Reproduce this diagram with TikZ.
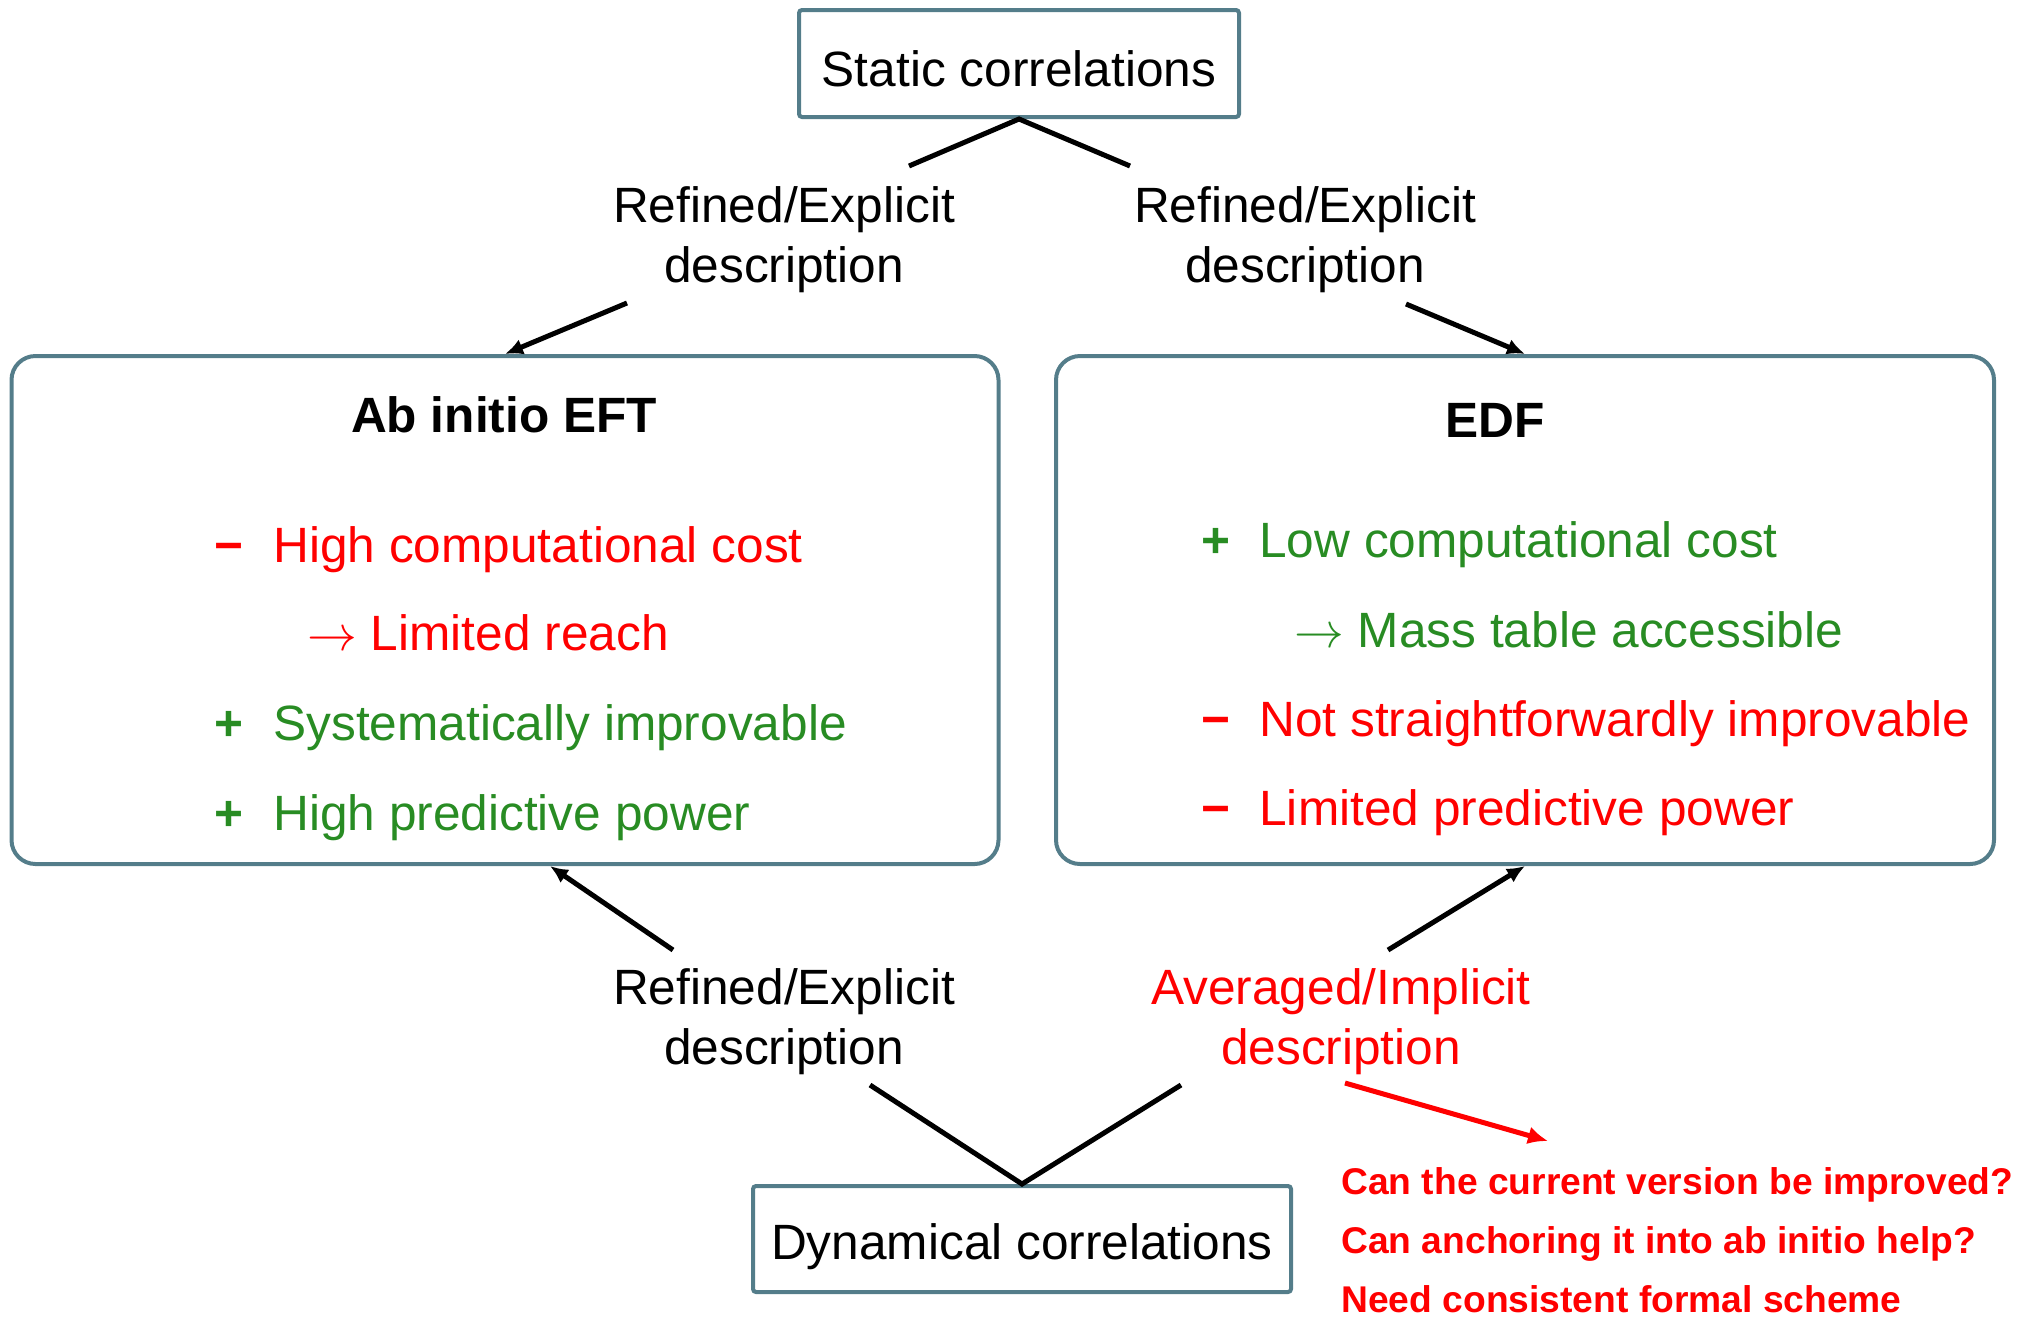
\documentclass[tikz,border=0pt]{standalone}
\usepackage{fontspec}
\setmainfont{Liberation Sans}
\usetikzlibrary{arrows.meta,calc}
\definecolor{bordc}{RGB}{84,125,138}
\definecolor{grn}{RGB}{40,140,35}
\newcommand\mainsz{\fontsize{24.8}{30}\selectfont}
\newcommand\qsz{\fontsize{18.6}{29.5}\selectfont\bfseries}
\newcommand\minussign{{\bfseries\char"2212}}
\tikzset{
  smallbox/.style={draw=bordc, line width=2pt, rounded corners=1.5pt, font=\mainsz, inner sep=0pt},
  bigbox/.style={draw=bordc, line width=2pt, rounded corners=12pt, inner sep=0pt},
  txt/.style={inner sep=0pt, font=\mainsz},
  conn/.style={line width=2.5pt, black},
  arr/.style={conn, -{Latex[length=9pt,width=8pt]}},
  redarr/.style={line width=2.5pt, red, -{Latex[length=10pt,width=9pt]}},
}
\begin{document}
\begin{tikzpicture}[x=0.5pt,y=-0.5pt]
\useasboundingbox (0,0) rectangle (2028,1318);

% boxes
\node[smallbox, minimum width=220pt, minimum height=53.5pt, text height=22.5pt, text depth=0pt] (static) at (1019,63.5) {Static correlations};
\node[bigbox, minimum width=493.5pt, minimum height=254pt] (lbox) at (505,610) {};
\node[bigbox, minimum width=469pt, minimum height=254pt] (rbox) at (1525,610) {};
\node[smallbox, minimum width=269pt, minimum height=53pt, text height=20pt, text depth=0pt] (dyn) at (1022,1239) {Dynamical correlations};

% titles
\node[txt, font=\mainsz\bfseries, anchor=base] (ltitle) at (504,432) {Ab initio EFT};
\node[txt, font=\mainsz\bfseries, anchor=base] (rtitle) at (1495,437) {EDF};

% left items
\node[txt, red, anchor=base west] (lm1) at (214,562) {\minussign};
\node[txt, red, anchor=base west] (l1) at (273,562) {High computational cost};
\node[txt, red, anchor=base west] (l2) at (307,650) {$\rightarrow$ Limited reach};
\node[txt, grn, anchor=base west] (lm3) at (214,740) {\bfseries +};
\node[txt, grn, anchor=base west] (l3) at (273,740) {Systematically improvable};
\node[txt, grn, anchor=base west] (lm4) at (214,830) {\bfseries +};
\node[txt, grn, anchor=base west] (l4) at (273,830) {High predictive power};

% right items
\node[txt, grn, anchor=base west] (rm1) at (1201,557) {\bfseries +};
\node[txt, grn, anchor=base west] (r1) at (1259,557) {Low computational cost};
\node[txt, grn, anchor=base west] (r2) at (1294,647) {$\rightarrow$ Mass table accessible};
\node[txt, red, anchor=base west] (rm3) at (1201,736) {\minussign};
\node[txt, red, anchor=base west] (r3) at (1259,736) {Not straightforwardly improvable};
\node[txt, red, anchor=base west] (rm4) at (1201,825) {\minussign};
\node[txt, red, anchor=base west] (r4) at (1259,825) {Limited predictive power};

% labels
\node[txt, anchor=base] (tl) at (784,222) {\begin{tabular}[t]{@{}c@{}}Refined/Explicit\\description\end{tabular}};
\node[txt, anchor=base] (tr) at (1305,222) {\begin{tabular}[t]{@{}c@{}}Refined/Explicit\\description\end{tabular}};
\node[txt, anchor=base] (bl) at (784,1004.5) {\begin{tabular}[t]{@{}c@{}}Refined/Explicit\\description\end{tabular}};
\node[txt, red, anchor=base] (br) at (1341,1004.5) {\begin{tabular}[t]{@{}c@{}}Averaged/Implicit\\description\end{tabular}};

% questions
\node[inner sep=0pt, font=\qsz, red, anchor=base west] (q) at (1341,1194) {\begin{tabular}[t]{@{}l@{}}Can the current version be improved?\\Can anchoring it into ab initio help?\\Need consistent formal scheme\end{tabular}};

% connectors
\coordinate (tlA) at (909,166);
\coordinate (trA) at (1130,166);
\draw[conn] (tlA) -- (static.south) -- (trA);
\coordinate (tlB) at (627,303);
\draw[arr] (tlB) -- (lbox.north);
\coordinate (trB) at (1406,304);
\draw[arr] (trB) -- (rbox.north);

\coordinate (blB) at (673,950);
\draw[arr] (blB) -- ($(lbox.south)+(45,0)$);
\coordinate (brB) at (1388,950);
\draw[arr] (brB) -- (rbox.south);
\coordinate (blA) at (870,1085);
\coordinate (brA) at (1181,1085);
\draw[conn] (blA) -- (dyn.north) -- (brA);

\coordinate (qA) at (1345,1083);
\coordinate (qB) at (1548,1141);
\draw[redarr] (qA) -- (qB);
\end{tikzpicture}
\end{document}
